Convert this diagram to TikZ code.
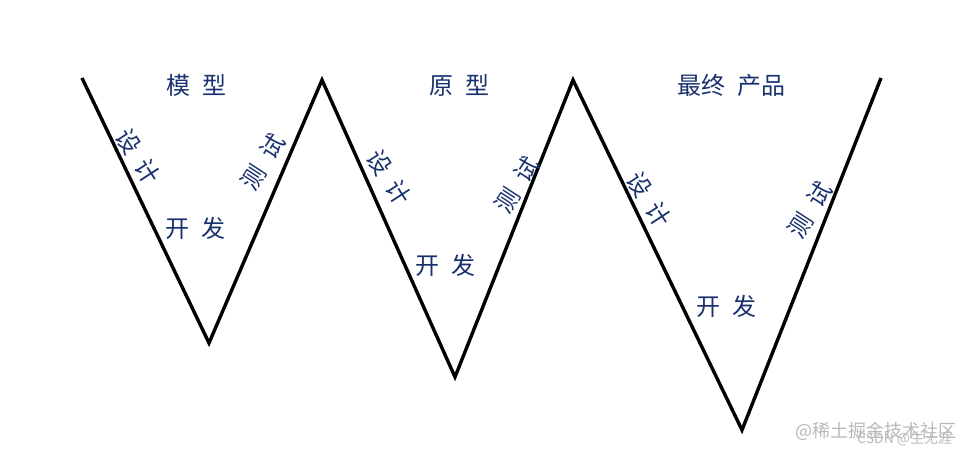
\documentclass[tikz,border=0pt]{standalone}
\usepackage{fontspec}
\newfontfamily\cjk{Noto Sans CJK SC}
\definecolor{navy}{RGB}{25,50,110}
\definecolor{wm}{RGB}{185,185,185}
\newcommand{\gp}{\hspace{0.5em}}
\begin{document}
\begin{tikzpicture}[x=1pt,y=-1pt,
  lbl/.style={font=\cjk\fontsize{24}{26}\selectfont, text=navy, inner sep=0pt},
  wmark/.style={font=\cjk\fontsize{18}{20}\selectfont, text=wm, inner sep=0pt},
  vline/.style={line width=3.4pt, black, line join=miter}]
\useasboundingbox (0,0) rectangle (972,456);
\fill[white] (0,0) rectangle (972,456);
\coordinate (A) at (82,78);
\coordinate (B) at (209,343);
\coordinate (C) at (322,80);
\coordinate (D) at (455,377);
\coordinate (E) at (573,80);
\coordinate (F) at (742,430);
\coordinate (G) at (881,78);
\draw[vline] (A) -- (B) -- (C) -- (D) -- (E) -- (F) -- (G);
% titles
\node[lbl] (t1) at (196,85) {模\gp 型};
\node[lbl] (t2) at (459,85) {原\gp 型};
\node[lbl] (t3) at (731,85) {最终\gp 产品};
% develop
\node[lbl] (k1) at (195,228) {开\gp 发};
\node[lbl] (k2) at (445,265) {开\gp 发};
\node[lbl] (k3) at (726,306) {开\gp 发};
% design
\node[lbl, rotate=-57] (s1) at (138,157) {设\gp 计};
\node[lbl, rotate=-57] (s2) at (389,178) {设\gp 计};
\node[lbl, rotate=-57] (s3) at (649,200) {设\gp 计};
% test
\node[lbl, rotate=57] (c1) at (263,162) {测\gp 试};
\node[lbl, rotate=57] (c2) at (517,185) {测\gp 试};
\node[lbl, rotate=57] (c3) at (810,210) {测\gp 试};
% watermark
\node[wmark, anchor=west] (w1) at (795,431) {@稀土掘金技术社区};
\node[wmark, font=\cjk\fontsize{14}{16}\selectfont, anchor=west] (w2) at (857,439) {CSDN @生无涯};
\end{tikzpicture}
\end{document}
